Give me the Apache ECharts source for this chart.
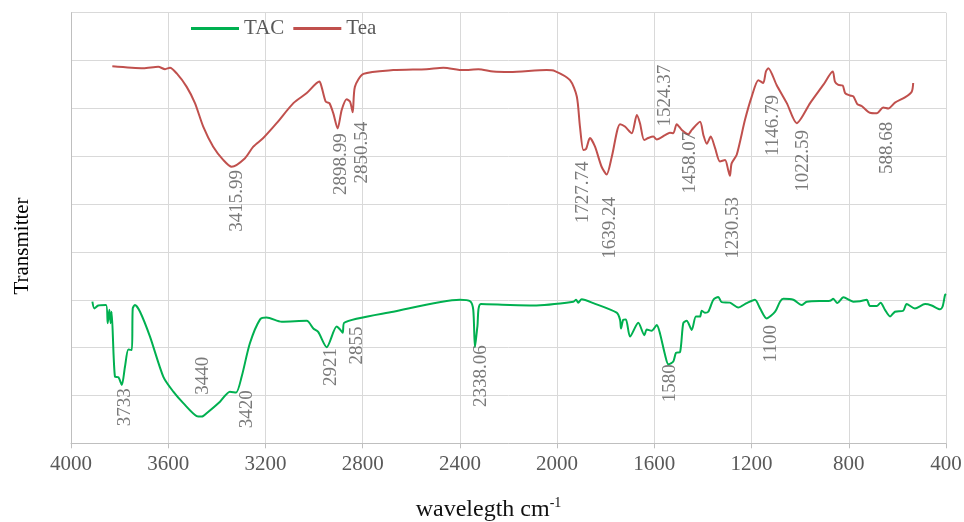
<!DOCTYPE html>
<html><head><meta charset="utf-8">
<script src="https://cdn.jsdelivr.net/npm/echarts@6/dist/echarts.min.js"></script>
<style>html,body{margin:0;padding:0;background:#fff}#c{width:964px;height:522px}</style>
</head><body><div id="c"></div>
<script>
// Wavenumber (cm-1) axis ticks
const xTicks = [4000, 3600, 3200, 2800, 2400, 2000, 1600, 1200, 800, 400];

// Tea spectrum: [wavenumber, transmittance (arbitrary units)]
const teaData = [
 [3830,78.8],[3702,78.4],[3641,78.7],[3613,78.2],[3593,78.5],[3565,77.3],[3524,74.5],[3490,71.1],
 [3456,66.2],[3415,62.0],[3373,59.2],[3339,57.8],[3284,59.6],[3250,62.0],[3209,63.8],[3154,66.9],
 [3085,71.1],[3030,73.2],[2978,75.6],[2969,74.5],[2952,71.4],[2937,71.1],[2921,69.0],[2903,65.8],
 [2886,69.7],[2866,71.9],[2852,71.4],[2841,69.2],[2832,74.5],[2797,77.2],[2674,78.0],[2537,78.2],
 [2468,78.5],[2386,78.0],[2324,78.2],[2263,77.7],[2194,77.6],[2043,78.0],[2009,77.8],[1947,75.9],
 [1919,72.5],[1906,66.2],[1892,61.3],[1881,61.5],[1865,63.8],[1844,62.0],[1817,57.8],[1796,56.2],
 [1775,59.9],[1741,66.7],[1721,66.2],[1693,64.8],[1672,68.6],[1659,66.9],[1642,63.4],[1625,63.8],
 [1604,64.1],[1590,63.5],[1556,64.4],[1536,64.9],[1522,64.8],[1508,66.7],[1487,65.5],[1460,64.6],
 [1446,65.5],[1412,67.2],[1398,64.4],[1384,62.6],[1368,64.1],[1350,61.7],[1330,58.9],[1309,59.2],
 [1296,57.1],[1289,55.9],[1282,58.5],[1261,60.3],[1227,67.6],[1199,72.5],[1172,75.9],[1152,75.3],
 [1141,77.7],[1131,78.4],[1097,74.9],[1055,71.1],[1014,66.9],[959,71.1],[905,74.9],[866,77.7],
 [857,75.6],[843,74.9],[825,74.8],[815,73.2],[795,72.7],[781,72.5],[765,70.9],[747,70.5],
 [713,69.1],[685,69.0],[658,70.2],[637,70.0],[610,71.2],[569,72.3],[541,73.5],[535,75.3]
];

// TAC spectrum: [wavenumber, transmittance (arbitrary units)]
const tacData = [
 [3912,29.6],[3904,28.2],[3888,28.8],[3856,28.9],[3849,25.1],[3842,27.9],[3837,25.1],[3833,27.5],
 [3819,13.9],[3805,13.8],[3791,12.2],[3778,16.0],[3764,19.6],[3750,19.5],[3746,28.2],[3737,28.9],
 [3716,27.5],[3675,22.3],[3620,13.9],[3579,10.8],[3538,8.4],[3483,5.7],[3462,5.6],[3442,6.3],
 [3387,8.7],[3346,10.8],[3321,10.6],[3298,13.9],[3264,20.9],[3222,25.9],[3195,26.3],[3133,25.4],
 [3030,25.6],[3003,24.0],[2983,23.3],[2948,20.1],[2907,24.4],[2893,23.8],[2882,23.1],[2876,25.2],
 [2674,27.5],[2400,30.0],[2358,29.7],[2345,27.9],[2338,20.1],[2328,24.4],[2314,29.1],[2194,28.9],
 [2098,28.8],[1933,29.6],[1922,30.0],[1913,29.4],[1899,30.1],[1851,29.3],[1755,27.3],[1741,25.8],
 [1737,24.0],[1728,25.8],[1717,25.9],[1700,22.3],[1666,25.2],[1641,22.6],[1631,23.8],[1611,23.5],
 [1590,24.7],[1577,23.0],[1556,18.5],[1542,16.5],[1522,17.1],[1511,18.9],[1494,19.1],[1481,25.1],
 [1467,25.6],[1446,23.7],[1429,26.5],[1412,26.5],[1405,27.7],[1392,27.3],[1378,27.5],[1357,30.0],
 [1337,30.6],[1323,29.5],[1289,29.4],[1255,28.4],[1220,29.3],[1186,30.0],[1165,28.2],[1138,26.1],
 [1103,27.5],[1083,29.6],[1069,30.2],[1028,30.0],[994,28.9],[973,29.6],[877,29.8],[864,30.2],
 [847,29.3],[822,30.5],[781,29.6],[754,29.7],[726,30.0],[713,28.7],[685,28.7],[669,29.4],
 [651,27.9],[630,26.5],[610,27.5],[576,27.7],[562,29.1],[528,28.2],[486,29.1],[459,28.8],
 [425,28.0],[414,28.6],[404,31.0],[400,31.2]
];

// Peak annotations: [wavenumber, value, text]
const teaPeaks = [
 [3318,57.1,'3415.99'],[2889,64.8,'2898.99'],[2804,67.2,'2850.54'],[1892,58.9,'1727.74'],
 [1782,51.5,'1639.24'],[1556,79.1,'1524.37'],[1453,65.1,'1458.07'],[1278,51.5,'1230.53'],
 [1110,72.8,'1146.79'],[987,65.5,'1022.59'],[641,67.2,'588.68']
];
const tacPeaks = [
 [3778,11.5,'3733'],[3456,18.1,'3440'],[3277,11.1,'3420'],[2931,19.9,'2921'],[2824,24.4,'2855'],
 [2314,20.5,'2338.06'],[1536,16.5,'1580'],[1121,24.7,'1100']
];

const FONT = '"Liberation Serif","Times New Roman",serif';
const GREEN = '#00B050', RED = '#C0504D', GRID = '#D9D9D9', TXT = '#595959';

const peakLabel = {
  show: true, position: 'inside', rotate: 90, align: 'right', verticalAlign: 'middle',
  color: TXT, fontFamily: FONT, fontSize: 19,
  formatter: p => p.value[2]
};

const chart = echarts.init(document.getElementById('c'), null, {renderer: 'canvas'});
chart.setOption({
  animation: false,
  backgroundColor: '#fff',
  grid: {left: 71, right: 18, top: 12.7, bottom: 78.7, containLabel: false, outerBoundsMode: 'none'},
  legend: {
    top: 18, left: 191, padding: 0, itemWidth: 48, itemHeight: 3, itemGap: 9,
    icon: 'rect',
    textStyle: {fontFamily: FONT, fontSize: 21, color: TXT},
    data: ['TAC', 'Tea']
  },
  graphic: [{
    type: 'text', x: 22, y: 246, rotation: Math.PI / 2,
    style: {text: 'Transmitter', font: '21px ' + FONT, fill: '#000', align: 'center', verticalAlign: 'middle'}
  }],
  xAxis: {
    type: 'value', inverse: true, min: 400, max: 4000, interval: 400,
    name: '{a|wavelegth cm}{b|-1}', nameLocation: 'middle', nameGap: 50,
    nameTextStyle: {
      padding: [0, 40, 0, 0],
      rich: {
        a: {fontFamily: FONT, fontSize: 24, color: '#111', verticalAlign: 'bottom', lineHeight: 28},
        b: {fontFamily: FONT, fontSize: 14, color: '#111', verticalAlign: 'middle', lineHeight: 14, padding: [0, 0, 7, 0]}
      }
    },
    axisLine: {show: true, lineStyle: {color: '#BFBFBF', width: 1}},
    axisTick: {show: true, length: 5, lineStyle: {color: '#BFBFBF'}},
    axisLabel: {fontFamily: FONT, fontSize: 21, color: TXT, margin: 11,
      formatter: v => xTicks.includes(v) ? String(v) : ''},
    splitLine: {show: true, lineStyle: {color: GRID, width: 1}}
  },
  yAxis: {
    type: 'value', min: 0, max: 90, interval: 10,
    axisLine: {show: true, lineStyle: {color: '#BFBFBF'}},
    axisTick: {show: false},
    axisLabel: {show: false},
    splitLine: {show: true, lineStyle: {color: GRID, width: 1}}
  },
  series: [
    {name: 'TAC', type: 'line', data: tacData, showSymbol: false, symbol: 'none', smooth: 0.25,
      lineStyle: {color: GREEN, width: 2}, itemStyle: {color: GREEN}, z: 3},
    {name: 'Tea', type: 'line', data: teaData, showSymbol: false, symbol: 'none', smooth: 0.25,
      lineStyle: {color: RED, width: 2}, itemStyle: {color: RED}, z: 3},
    {name: 'teaPeaks', type: 'scatter', data: teaPeaks, symbolSize: 0, label: peakLabel, silent: true, z: 4},
    {name: 'tacPeaks', type: 'scatter', data: tacPeaks, symbolSize: 0, label: peakLabel, silent: true, z: 4}
  ]
});
</script></body></html>
